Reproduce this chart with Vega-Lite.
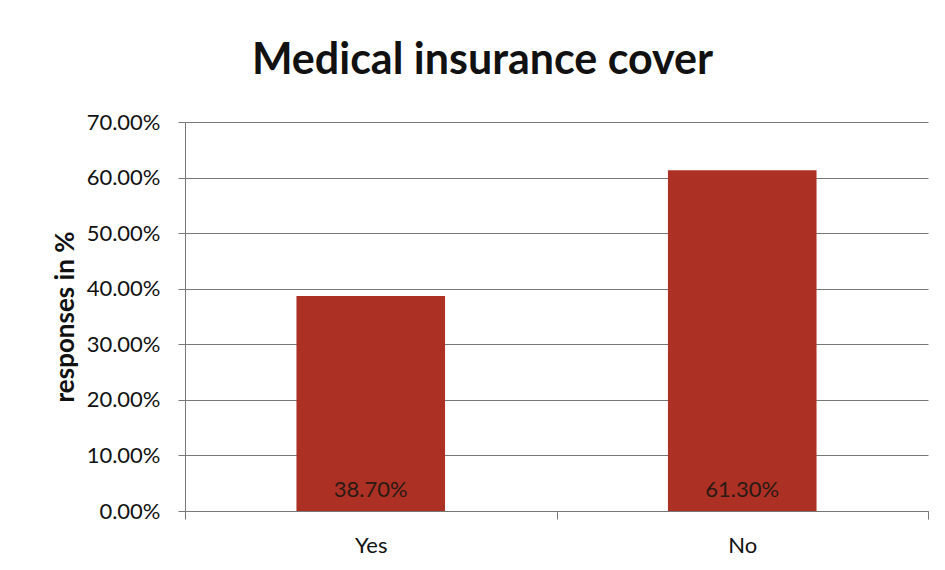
{
  "$schema": "https://vega.github.io/schema/vega-lite/v6.json",
  "width": 743,
  "height": 389,
  "autosize": {"type": "none"},
  "padding": {"left": 185, "top": 122, "right": 17, "bottom": 59},
  "background": "white",
  "data": {"values": [
    {"answer": "Yes", "share": 0.387},
    {"answer": "No", "share": 0.613}
  ]},
  "title": {
    "text": "Medical insurance cover",
    "font": "Lato",
    "fontSize": 43,
    "fontWeight": "bold",
    "color": "#111111",
    "anchor": "middle",
    "offset": 28,
    "dx": -74
  },
  "config": {
    "view": {"stroke": null},
    "font": "Lato"
  },
  "encoding": {
    "x": {
      "field": "answer",
      "type": "nominal",
      "sort": ["Yes", "No"],
      "scale": {"paddingInner": 0, "paddingOuter": 0},
      "axis": {
        "title": null,
        "labelAngle": 0,
        "labelFont": "Lato",
        "labelFontSize": 22,
        "labelColor": "#111111",
        "labelPadding": 16,
        "tickBand": "extent",
        "tickSize": 8,
        "tickColor": "#777777",
        "domainColor": "#777777",
        "grid": false
      }
    }
  },
  "layer": [
    {
      "mark": {"type": "bar", "color": "#AD3024", "width": {"band": 0.4}},
      "encoding": {
        "y": {
          "field": "share",
          "type": "quantitative",
          "scale": {"domain": [0, 0.7], "nice": false},
          "axis": {
            "title": "responses in %",
            "titleFont": "Lato",
            "titleFontSize": 26,
            "titleFontWeight": "bold",
            "titleColor": "#111111",
            "titlePadding": 8,
            "format": ".2%",
            "values": [0, 0.1, 0.2, 0.3, 0.4, 0.5, 0.6, 0.7],
            "labelFont": "Lato",
            "labelFontSize": 22,
            "labelColor": "#111111",
            "labelPadding": 18,
            "tickSize": 7,
            "tickColor": "#777777",
            "domainColor": "#777777",
            "gridColor": "#777777",
            "gridWidth": 1
          }
        }
      }
    },
    {
      "mark": {"type": "text", "font": "Lato", "fontSize": 22, "color": "#2a1a14", "baseline": "middle", "dy": -21},
      "encoding": {
        "y": {"datum": 0, "type": "quantitative"},
        "text": {"field": "share", "type": "quantitative", "format": ".2%"}
      }
    }
  ]
}
